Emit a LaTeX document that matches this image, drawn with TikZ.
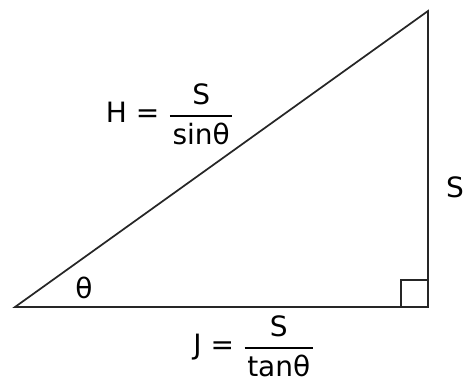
\documentclass[tikz,border=0pt]{standalone}
\usepackage{amsmath}
\usepackage{fontspec}
\setmainfont{DejaVu Sans}
\usepackage{tikz}
\usetikzlibrary{positioning}

\newcommand{\ratio}[2]{$\genfrac{}{}{1.4pt}{0}{\hbox{#1}}{\hbox{\kern2pt #2\kern2pt}}$}

\begin{document}
\begin{tikzpicture}[
    x=0.75pt, y=-0.75pt,
    font=\fontsize{21}{25}\selectfont,
    side/.style={draw=black!85, line width=1.3pt},
    rightmark/.style={draw=black!85, line width=1.1pt},
    lbl/.style={inner sep=0pt, align=center}
]
\useasboundingbox (0,0) rectangle (464,383);
\coordinate (left) at (15,307);
\coordinate (corner) at (428,307);
\coordinate (top) at (428,11);

\draw[side] (left) -- (corner) -- (top) -- cycle;
\draw[rightmark] (corner) ++(-27,0) -- ++(0,-27) -- ++(27,0);

\node[lbl] (theta) at (84,288) {θ};
\node[lbl] (opp) at (455,187) {S};
\node[lbl] (hyp) at (170,114) {H = \ratio{S}{sinθ}};
\node[lbl] (adj) at (254,346) {J = \ratio{S}{tanθ}};
\end{tikzpicture}
\end{document}
